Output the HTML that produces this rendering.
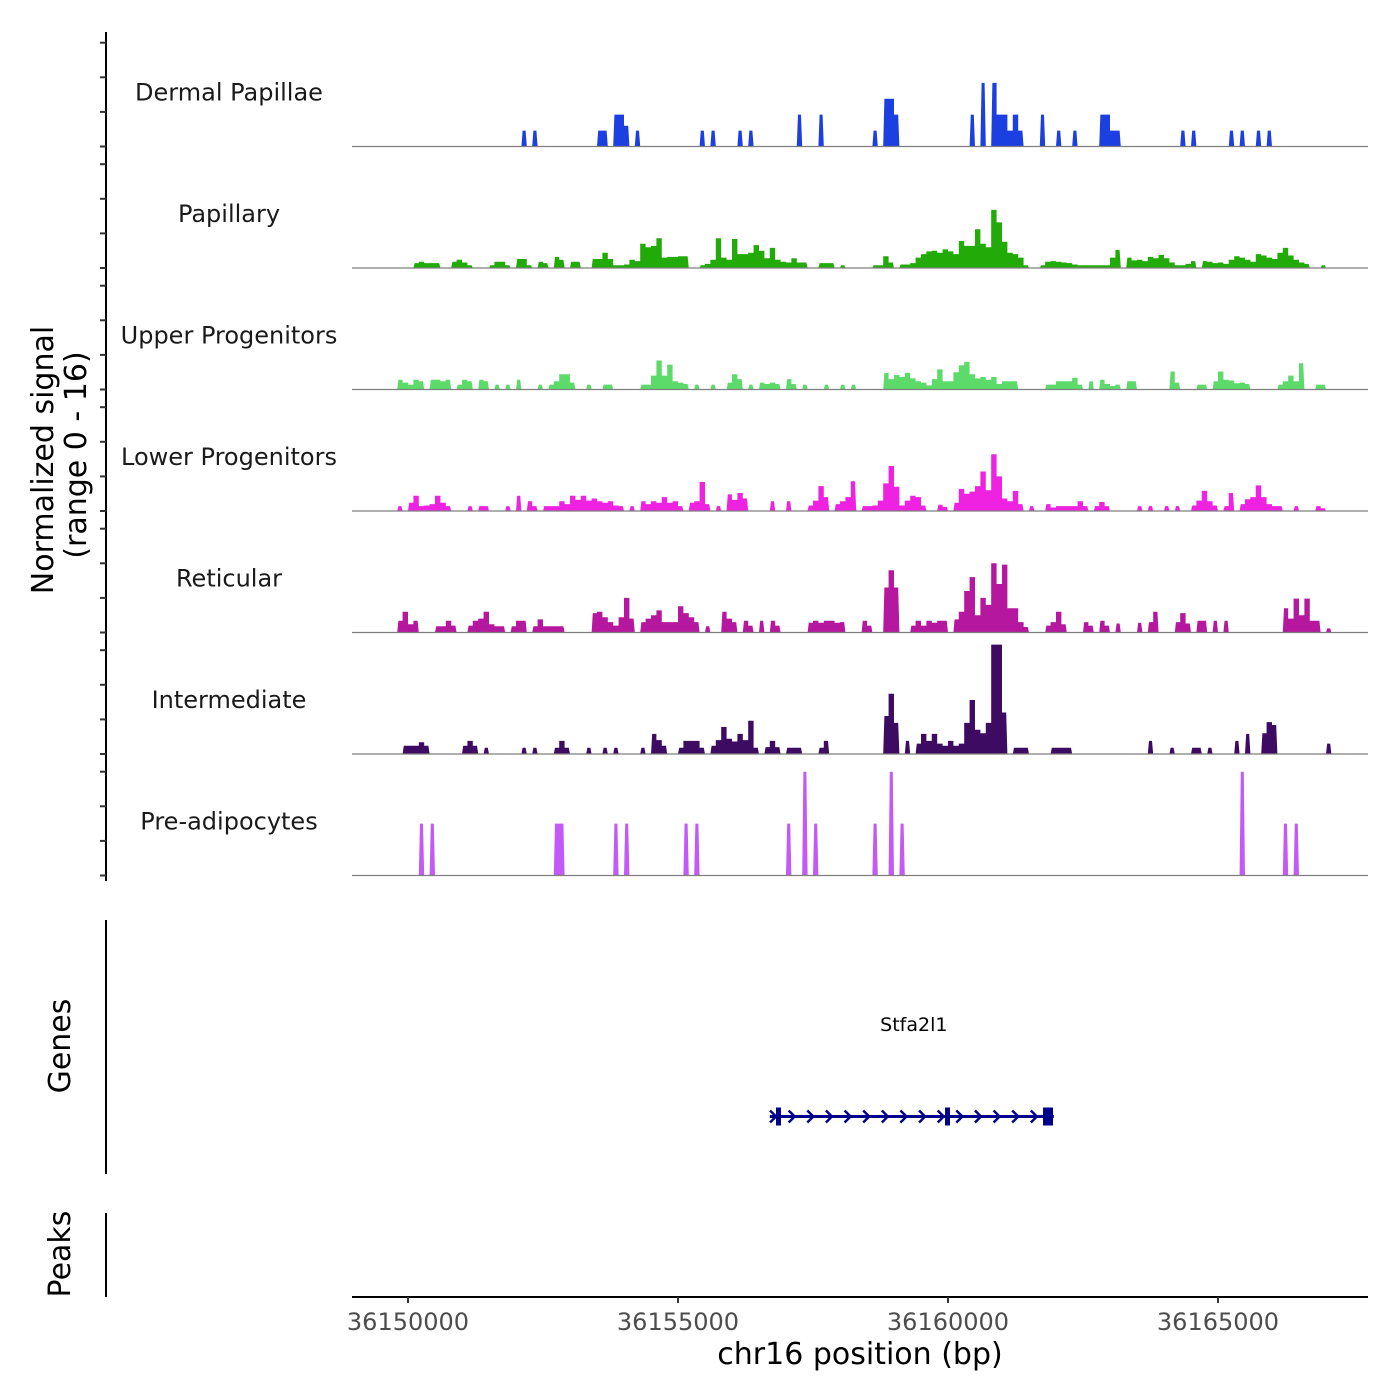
<!DOCTYPE html>
<html><head><meta charset="utf-8">
<style>
html,body{margin:0;padding:0;background:#fff;}
svg{display:block;font-family:"DejaVu Sans","Liberation Sans",sans-serif;}
</style></head>
<body>
<svg id="chart" width="1400" height="1400" viewBox="0 0 1400 1400" xmlns="http://www.w3.org/2000/svg">
<rect x="0" y="0" width="1400" height="1400" fill="#fff"/>
<g id="tracks"></g>
<g id="yaxis"></g>
<text transform="translate(53,460) rotate(-90)" text-anchor="middle" font-size="30" fill="#000">Normalized signal</text>
<text transform="translate(86,455) rotate(-90)" text-anchor="middle" font-size="30" fill="#000">(range 0 - 16)</text>
<line x1="106" y1="920" x2="106" y2="1174" stroke="#000" stroke-width="2"/>
<text transform="translate(70,1046) rotate(-90)" text-anchor="middle" font-size="30" fill="#000">Genes</text>
<line x1="106" y1="1213" x2="106" y2="1297" stroke="#000" stroke-width="2"/>
<text transform="translate(70,1254) rotate(-90)" text-anchor="middle" font-size="30" fill="#000">Peaks</text>
<g id="gene"></g>
<g id="xaxis"></g>
<text x="860" y="1364" text-anchor="middle" font-size="30" fill="#000">chr16 position (bp)</text>
</svg>
<script>
const NS="http://www.w3.org/2000/svg";
const trackNames=["Dermal Papillae","Papillary","Upper Progenitors","Lower Progenitors","Reticular","Intermediate","Pre-adipocytes"];
const trackColors=["#1b3fe0","#22aa08","#5ddb6a","#ee22e0","#b5179e","#3d0b62","#c35af7"];
const binStart=36149000;
const binSize=100;
const nBins=188;
const xTickValues=[36150000,36155000,36160000,36165000];
const xTickLabels=["36150000","36155000","36160000","36165000"];
const yTickValues=[0,5,10,15];
// Sparse bins (index into 100bp bins from binStart) and values (normalized signal)
const dpBins=[31,33,45,46,48,49,50,52,64,66,71,73,82,86,96,98,99,100,114,116,118,119,120,121,122,123,127,130,133,138,139,140,141,153,155,162,164,167,169];
const dpVals=[2.3,2.3,2.3,2.3,4.6,4.6,3,2.3,2.3,2.3,2.3,2.3,4.6,4.6,2.3,6.9,6.9,4.6,4.6,9.2,9.2,4.6,4.6,2.3,4.6,2.3,4.6,2.3,2.3,4.6,4.6,2.3,2.3,2.3,2.3,2.3,2.3,2.3,2.3];
const papBins=[11,12,13,14,15,18,19,20,21,25,26,27,28,30,31,32,34,35,37,38,40,41,44,45,46,47,48,49,50,51,52,53,54,55,56,57,58,59,60,61,64,65,66,67,68,69,70,71,72,73,74,75,76,77,78,79,80,81,82,83,86,87,88,90,96,97,98,99,101,102,103,104,105,106,107,108,109,110,111,112,113,114,115,116,117,118,119,120,121,122,123,124,127,128,129,130,131,132,133,134,135,136,137,138,139,140,141,143,144,145,146,147,148,149,150,151,152,153,154,155,157,158,159,160,161,162,163,164,165,166,167,168,169,170,171,172,173,174,175,176,179];
const papVals=[0.7,0.9,0.7,0.7,0.7,0.9,1.2,0.8,0.4,0.4,0.9,0.9,0.4,1.3,1.3,0.4,0.9,0.7,1.6,1.2,0.9,0.9,1.3,1.3,2.2,1.3,0.4,0.4,0.5,1.2,1.0,3.5,3,3.2,4.3,1.5,1.6,1.6,1.7,1.7,0.4,0.6,1.2,4.3,1.5,1.2,4.2,2,2,2.2,3.3,2.5,1.4,2.9,1.2,0.9,0.8,1.4,0.8,0.8,0.7,0.7,0.7,0.4,0.4,0.4,1.7,0.8,0.5,0.5,0.7,1.5,2,2.4,2.5,2.2,2.7,2.4,2,3.9,3.2,3.2,5.6,3.5,3,8.4,6.6,3.8,2.2,2,1.5,0.4,0.4,0.9,1,0.9,0.8,0.7,0.5,0.4,0.4,0.4,0.4,0.4,0.4,1.5,2.6,1.5,1.1,1.2,1,1.6,1.4,1.9,1.4,0.8,0.4,0.4,0.6,1,1,0.9,0.7,0.8,0.6,1.2,1.7,1.5,1.2,0.9,2,1.8,1.5,1.3,2.2,2.9,1.8,1.2,0.8,0.6,0.4];
const upBins=[8,9,10,11,12,14,15,16,17,19,20,21,23,24,26,28,30,34,36,37,38,39,40,43,46,47,53,54,55,56,57,58,59,60,61,63,66,69,70,71,73,75,76,77,78,80,81,83,87,90,92,98,99,100,101,102,103,104,105,106,107,108,109,110,111,112,113,114,115,116,117,118,119,120,121,122,128,129,130,131,132,133,134,136,138,139,140,141,143,144,151,152,156,157,159,160,161,162,163,164,165,171,172,173,174,175,178,179];
const upVals=[1.4,1.0,0.7,1.4,1.2,1.4,1.4,1.2,1.4,0.7,1.4,1.2,1.4,1.2,0.7,0.7,1.4,0.7,0.7,1.2,2.2,2.2,1,0.7,0.7,0.7,0.7,0.7,2,4.2,2,3.6,1.2,1,0.8,0.7,0.7,1,2.2,1.5,0.7,1,0.8,1,0.8,1.5,0.8,0.7,0.7,0.7,0.7,2.4,1.5,2.1,1.8,2.4,1.6,1.2,1.0,0.6,1.5,2.9,1.2,1.2,2.5,3.5,4.0,2.2,1.6,1.8,1.4,1.8,0.8,1.2,1.2,1.2,0.7,0.7,1.2,1.2,1.2,1.7,0.7,1.2,1.4,0.8,0.5,0.7,1.2,1.2,2.6,1,0.7,0.7,1.2,2.6,1.4,1.3,0.9,1,0.8,0.7,1.2,2,1.2,3.8,0.7,0.7];
const lpBins=[8,10,11,12,13,14,15,16,17,21,23,24,28,30,32,33,35,36,37,38,39,40,41,42,43,44,45,46,47,48,49,51,53,54,55,56,57,58,59,60,62,63,64,65,67,69,70,71,72,77,80,84,85,86,87,89,90,91,92,94,95,96,97,98,99,100,101,102,103,104,105,108,109,111,112,113,114,115,116,117,118,119,120,121,122,123,125,128,129,130,131,132,133,134,135,137,138,139,145,147,150,152,155,156,157,158,159,161,162,164,165,166,167,168,169,170,171,174,178,179];
const lpVals=[0.7,1.2,2.2,0.7,0.8,1,2.2,1.2,0.7,0.7,0.7,0.7,0.7,2.2,1.4,0.7,0.7,0.7,0.7,1.4,1,2.2,1.6,2.2,1.5,1.8,1.4,1.2,1.4,0.8,0.7,0.7,1.4,1,1.4,1.2,2,1.2,1.4,0.7,1.2,1.4,4.2,1,0.7,2.4,1.6,2.6,1.8,1.4,1.4,0.8,1.5,3.6,2,1,1.4,2,4.3,0.7,0.7,0.8,1.5,4,6.5,3.5,0.8,1.5,2.2,2,0.8,0.9,0.6,1.2,3.2,2.5,2.8,3.6,5.7,3,8.2,5,1.8,1.4,2.9,1,0.7,1,0.5,0.7,0.7,0.7,0.7,1.4,0.7,0.7,1.3,0.7,0.7,0.7,0.7,0.7,0.8,1.5,2.9,1.4,0.8,0.7,2.6,1,1.7,2,3.7,2,1,0.7,0.7,0.7,0.7,0.4];
const retBins=[8,9,10,11,15,16,17,18,21,22,23,24,25,26,27,29,30,31,33,34,35,36,37,38,44,45,46,47,48,49,50,51,53,54,55,56,57,58,59,60,61,62,63,65,68,69,70,72,73,75,77,78,84,85,86,87,88,89,90,94,95,98,99,100,103,104,105,106,107,108,109,111,112,113,114,115,116,117,118,119,120,121,122,123,124,128,129,130,131,135,136,138,139,141,145,147,148,152,153,154,156,157,159,161,172,173,174,175,176,177,178,180];
const retVals=[1.7,3,1.2,1.7,0.9,0.9,1.7,1,1,1.7,2,3,1.2,0.9,0.9,0.9,1.7,1.7,0.9,1.9,0.9,0.9,0.9,0.9,2.8,3,2.2,1.5,1,2.2,5,2,1.5,2,2.5,3.2,1.5,1.5,1.5,3.8,2.8,2.2,1.5,0.9,3,2,1.5,1.7,1,1.7,1.7,1,1.4,1.7,1.4,1.7,1.7,1.4,1.5,1.7,1,6.5,9,6.5,1,1.7,1,1.7,1.4,1.7,1.7,1.9,3,6,8,2.5,5,4,10,7,9.8,3.5,3.5,1.5,0.8,1,1.5,3,1.2,1.5,1,1.7,1,1.3,1.4,1.5,3,1.5,2.8,1.3,1.7,1.7,1.7,1.7,3.5,2,4.9,2.5,4.9,1.7,1.7,0.6];
const intBins=[9,10,11,12,13,20,21,22,24,31,33,37,38,39,43,46,48,53,55,56,57,60,61,62,63,64,66,67,68,69,70,71,72,73,74,76,77,78,80,81,82,86,87,98,99,100,102,104,105,106,107,108,109,110,111,112,113,114,115,116,117,118,119,120,122,123,124,129,130,131,132,147,151,155,156,158,163,165,168,169,170,180];
const intVals=[1.2,1.2,1.2,1.7,1.2,1.2,1.9,1.2,0.9,0.9,0.9,0.9,1.9,0.9,0.9,0.9,0.9,0.9,2.9,2,1.2,0.9,1.9,1.9,1.9,0.9,1.2,2,3.9,2.2,1.8,2.9,2,4.8,0.9,1,1.9,1,0.9,0.9,0.9,0.9,1.9,5.5,8.7,4.5,1.9,1.5,2.9,1.9,2.9,1.5,1.2,1.9,1.2,1.5,4.5,7.8,3.5,3,4.5,15.8,15.8,6,0.9,0.9,0.9,0.9,0.9,0.9,0.9,1.9,0.9,0.9,0.9,0.9,1.9,2.9,3,4.6,4.2,1.5];
const preBins=[12,14,37,38,48,50,61,63,80,83,85,96,99,101,164,172,174];
const preVals=[7.5,7.5,7.5,7.5,7.5,7.5,7.5,7.5,7.5,15,7.5,7.5,15,7.5,15,7.5,7.5];
const trackBins=[dpBins,papBins,upBins,lpBins,retBins,intBins,preBins];
const trackVals=[dpVals,papVals,upVals,lpVals,retVals,intVals,preVals];
// Gene model
const geneName="Stfa2l1";
const geneStart=36156700;
const geneEnd=36161960;
const exonStarts=[36156815,36159945,36161760];
const exonEnds=[36156907,36160037,36161945];

const xMin=36148963, xMax=36167778;
const plotL=352, plotR=1368;
function xScale(bp){return plotL+(bp-xMin)/(xMax-xMin)*(plotR-plotL);}
const trackTop=25, trackH=121.5, unitPx=6.92;
function baseY(t){return trackTop+trackH*(t+1);}
function yScale(t,v){return baseY(t)-v*unitPx;}

const gT=document.getElementById('tracks');
trackNames.forEach((name,t)=>{
  const g=document.createElementNS(NS,'g');
  
  
  const dense=new Array(nBins).fill(0);
  trackBins[t].forEach((b,k)=>{dense[b]=trackVals[t][k];});
  const b0=baseY(t);
  let d='M'+plotL+','+b0;
  for(let i=0;i<nBins;i++){
    const xl=xScale(binStart+i*binSize), xr=xScale(binStart+(i+1)*binSize);
    const v=dense[i];
    if(v>0){
      const prev=i>0?dense[i-1]:0, next=i<nBins-1?dense[i+1]:0;
      const a=prev>0?xl:xl+1.2, c=next>0?xr:xr-1.2;
      if(prev<=0) d+=' L'+xl.toFixed(2)+','+b0;
      d+=' L'+a.toFixed(2)+','+yScale(t,v).toFixed(2)+' L'+c.toFixed(2)+','+yScale(t,v).toFixed(2);
      if(next<=0) d+=' L'+xr.toFixed(2)+','+b0;
    }
  }
  d+=' L'+plotR+','+b0+' Z';
  const p=document.createElementNS(NS,'path');
  p.setAttribute('d',d);p.setAttribute('fill',trackColors[t]);
  
  
  g.appendChild(p);
  const bl=document.createElementNS(NS,'line');
  bl.setAttribute('x1',plotL);bl.setAttribute('x2',plotR);bl.setAttribute('y1',b0);bl.setAttribute('y2',b0);
  bl.setAttribute('stroke','#7f7f7f');bl.setAttribute('stroke-width','1.2');
  
  
  g.appendChild(bl);
  const tx=document.createElementNS(NS,'text');
  tx.setAttribute('x',229);tx.setAttribute('y',b0-46);tx.setAttribute('text-anchor','middle');
  tx.setAttribute('font-size','24');tx.setAttribute('fill','#1a1a1a');
  tx.textContent=name;
  
  
  g.appendChild(tx);
  gT.appendChild(g);
});

const gY=document.getElementById('yaxis');
let yl=document.createElementNS(NS,'line');
yl.setAttribute('x1',106);yl.setAttribute('x2',106);yl.setAttribute('y1',32);yl.setAttribute('y2',881);
yl.setAttribute('stroke','#000');yl.setAttribute('stroke-width','2');


gY.appendChild(yl);
for(let t=0;t<trackNames.length;t++){
  yTickValues.forEach(v=>{
    const y=yScale(t,v);
    const tk=document.createElementNS(NS,'line');
    tk.setAttribute('x1',100);tk.setAttribute('x2',106);tk.setAttribute('y1',y);tk.setAttribute('y2',y);
    tk.setAttribute('stroke','#333');tk.setAttribute('stroke-width','2');
    
    
    gY.appendChild(tk);
  });
}

const gG=document.getElementById('gene');
const gy=1116.5;
const gl=document.createElementNS(NS,'line');
gl.setAttribute('x1',xScale(geneStart));gl.setAttribute('x2',xScale(geneEnd));gl.setAttribute('y1',gy);gl.setAttribute('y2',gy);
gl.setAttribute('stroke','#00008b');gl.setAttribute('stroke-width','3');


gG.appendChild(gl);
for(let bp=geneStart+60;bp<geneEnd-150;bp+=345){
  const x=xScale(bp);
  const ch=document.createElementNS(NS,'polyline');
  ch.setAttribute('points',(x-3)+','+(gy-6)+' '+(x+3)+','+gy+' '+(x-3)+','+(gy+6));
  ch.setAttribute('fill','none');ch.setAttribute('stroke','#00008b');ch.setAttribute('stroke-width','2.5');
  
  
  gG.appendChild(ch);
}
exonStarts.forEach((s,k)=>{
  const r=document.createElementNS(NS,'rect');
  const x1=xScale(s),x2=xScale(exonEnds[k]);
  r.setAttribute('x',x1);r.setAttribute('width',x2-x1);r.setAttribute('y',gy-9);r.setAttribute('height',18);
  r.setAttribute('fill','#00008b');
  
  
  gG.appendChild(r);
});
const gn=document.createElementNS(NS,'text');
gn.setAttribute('x',xScale((geneStart+geneEnd)/2)+2);gn.setAttribute('y',1031);gn.setAttribute('text-anchor','middle');
gn.setAttribute('font-size','19');gn.setAttribute('fill','#000');
gn.textContent=geneName;


gG.appendChild(gn);

const gX=document.getElementById('xaxis');
const xl=document.createElementNS(NS,'line');
xl.setAttribute('x1',plotL);xl.setAttribute('x2',plotR);xl.setAttribute('y1',1297);xl.setAttribute('y2',1297);
xl.setAttribute('stroke','#000');xl.setAttribute('stroke-width','2');


gX.appendChild(xl);
xTickValues.forEach((v,k)=>{
  const x=xScale(v);
  const tk=document.createElementNS(NS,'line');
  tk.setAttribute('x1',x);tk.setAttribute('x2',x);tk.setAttribute('y1',1297);tk.setAttribute('y2',1303);
  tk.setAttribute('stroke','#333');tk.setAttribute('stroke-width','2');
  
  
  gX.appendChild(tk);
  const lb=document.createElementNS(NS,'text');
  lb.setAttribute('x',x);lb.setAttribute('y',1330);lb.setAttribute('text-anchor','middle');
  lb.setAttribute('font-size','24');lb.setAttribute('fill','#4d4d4d');
  lb.textContent=xTickLabels[k];
  
  
  gX.appendChild(lb);
});
</script>
</body></html>
